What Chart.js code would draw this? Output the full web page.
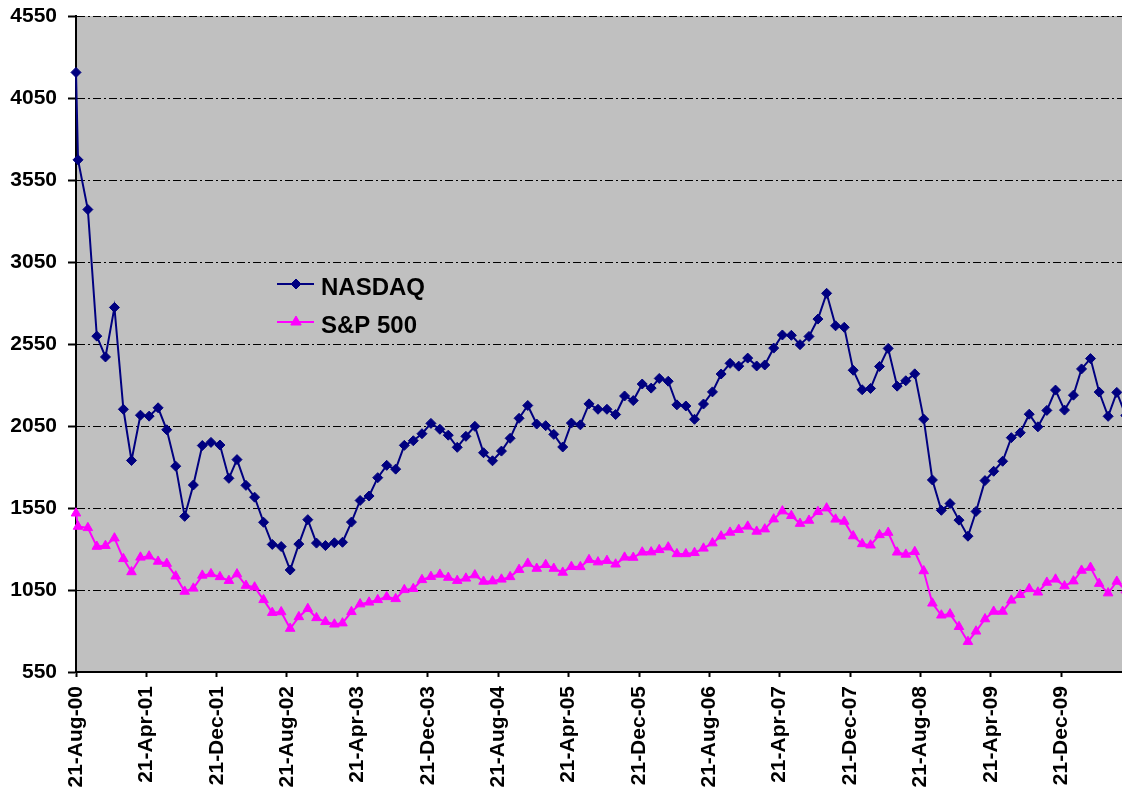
<!DOCTYPE html>
<html>
<head>
<meta charset="utf-8">
<title>NASDAQ and S&amp;P 500</title>
<script src="https://cdn.jsdelivr.net/npm/chart.js@4.4.1/dist/chart.umd.min.js"></script>
<style>
    html, body { margin: 0; padding: 0; background: #fff; }
    #wrap { width: 1122px; height: 792px; }
</style>
</head>
<body>
<div id="wrap"><canvas id="chart" width="1122" height="792"></canvas></div>
<script>
// Monthly closes, Aug-00 .. Aug-10
const nasdaq = [
    4206, 3673, 3370, 2598, 2471,
    2773, 2152, 1840, 2116, 2110, 2161, 2027, 1805, 1499, 1690, 1931, 1950,
    1934, 1731, 1845, 1688, 1616, 1463, 1328, 1315, 1172, 1330, 1479, 1336,
    1321, 1338, 1341, 1464, 1596, 1623, 1735, 1810, 1787, 1932, 1960, 2003,
    2066, 2030, 1994, 1920, 1987, 2048, 1887, 1838, 1897, 1975, 2097, 2175,
    2062, 2052, 1999, 1922, 2068, 2057, 2185, 2152, 2152, 2120, 2233, 2205,
    2306, 2281, 2340, 2323, 2179, 2172, 2091, 2184, 2258, 2367, 2432, 2415,
    2464, 2416, 2422, 2525, 2605, 2603, 2546, 2596, 2702, 2859, 2661, 2652,
    2390, 2271, 2279, 2413, 2523, 2293, 2326, 2368, 2092, 1721, 1536, 1577,
    1476, 1378, 1529, 1717, 1774, 1835, 1979, 2009, 2122, 2045, 2145, 2269,
    2147, 2238, 2398, 2461, 2257, 2109, 2255, 2114
];
const sp500 = [
    1518, 1437, 1429, 1315, 1320,
    1366, 1240, 1160, 1249, 1256, 1224, 1211, 1134, 1041, 1060, 1139, 1148,
    1130, 1107, 1147, 1077, 1067, 990, 912, 916, 815, 886, 936, 880,
    856, 841, 848, 917, 964, 975, 990, 1008, 996, 1051, 1058, 1112,
    1131, 1145, 1126, 1107, 1121, 1141, 1102, 1104, 1115, 1130, 1174, 1212,
    1181, 1204, 1181, 1157, 1192, 1191, 1234, 1220, 1229, 1207, 1249, 1248,
    1280, 1281, 1295, 1311, 1270, 1270, 1277, 1304, 1336, 1378, 1401, 1418,
    1438, 1407, 1421, 1482, 1531, 1503, 1455, 1474, 1527, 1549, 1481, 1468,
    1379, 1331, 1323, 1386, 1400, 1280, 1267, 1283, 1166, 969, 896, 903,
    826, 735, 798, 873, 919, 919, 987, 1021, 1057, 1036, 1096, 1115,
    1074, 1104, 1169, 1187, 1089, 1031, 1102, 1049
];
const seriesNames = ['NASDAQ', 'S&P 500'];
const firstDates = ['2000-08-21', '2000-08-28'];
const tickLabels = [
    '21-Aug-00', '21-Apr-01', '21-Dec-01', '21-Aug-02', '21-Apr-03',
    '21-Dec-03', '21-Aug-04', '21-Apr-05', '21-Dec-05', '21-Aug-06',
    '21-Apr-07', '21-Dec-07', '21-Aug-08', '21-Apr-09', '21-Dec-09'
];

const monthIdx = {Jan: 0, Feb: 1, Mar: 2, Apr: 3, May: 4, Jun: 5, Jul: 6, Aug: 7, Sep: 8, Oct: 9, Nov: 10, Dec: 11};
const DAY = 86400000;
const start = Date.UTC(2000, 7, 21);
const dayOf = (y, m, d) => (Date.UTC(y, m, d) - start) / DAY;

// point dates: two in Aug-00, then the 1st of every month from Oct-00
const dates = firstDates.map(s => {
    const p = s.split('-');
    return dayOf(+p[0], p[1] - 1, +p[2]);
});
for (let i = 0; dates.length < nasdaq.length; i++) dates.push(dayOf(2000, 9 + i, 1));

const tickDays = tickLabels.map(l => {
    const p = l.split('-');
    return dayOf(2000 + +p[2], monthIdx[p[1]], +p[0]);
});

const FONT = 'Arial, "Liberation Sans", sans-serif';
Chart.defaults.font.family = FONT;

// grey plot area
const plotBg = {
    id: 'plotBg',
    beforeDraw(chart) {
        const a = chart.chartArea;
        chart.ctx.save();
        chart.ctx.fillStyle = '#C0C0C0';
        chart.ctx.fillRect(a.left, a.top, a.right - a.left, a.bottom - a.top);
        chart.ctx.restore();
    }
};

// legend sitting inside the plot
const legendBox = {
    id: 'legendBox',
    afterDatasetsDraw(chart) {
        const ctx = chart.ctx;
        chart.data.datasets.forEach((ds, i) => {
            const y = 284 + i * 38;
            const cx = 296;
            ctx.save();
            ctx.strokeStyle = ds.borderColor;
            ctx.fillStyle = ds.borderColor;
            ctx.lineWidth = 2;
            ctx.beginPath();
            ctx.moveTo(277, y);
            ctx.lineTo(314, y);
            ctx.stroke();
            ctx.lineWidth = 1;
            ctx.beginPath();
            if (ds.pointStyle === 'rectRot') {
                const r = ds.pointRadius;
                ctx.moveTo(cx, y - r);
                ctx.lineTo(cx + r, y);
                ctx.lineTo(cx, y + r);
                ctx.lineTo(cx - r, y);
            } else {
                const r = ds.pointRadius + 0.5;
                ctx.moveTo(cx, y - r);
                ctx.lineTo(cx + r * 0.866, y + r / 2);
                ctx.lineTo(cx - r * 0.866, y + r / 2);
            }
            ctx.closePath();
            ctx.fill();
            ctx.stroke();
            ctx.fillStyle = '#000';
            ctx.font = 'bold 24px ' + FONT;
            ctx.textBaseline = 'alphabetic';
            ctx.fillText(ds.label, 321, y + 11);
            ctx.restore();
        });
    }
};

const toPoints = vals => vals.map((v, i) => ({x: dates[i], y: v}));
const clipBox = {left: 10, top: 10, right: 0, bottom: 10};

// keep the plot box fixed: 76px of y labels, 120px of x labels
const noPad = (s) => {
    s.paddingTop = 0;
    s.paddingBottom = 0;
    s.paddingLeft = 0;
    s.paddingRight = 0;
};

new Chart(document.getElementById('chart'), {
    type: 'line',
    data: {
        datasets: [{
            label: seriesNames[0],
            data: toPoints(nasdaq),
            borderColor: '#000080',
            backgroundColor: '#000080',
            pointBackgroundColor: '#000080',
            pointBorderColor: '#000080',
            borderWidth: 2,
            pointStyle: 'rectRot',
            pointRadius: 5,
            pointBorderWidth: 1,
            tension: 0,
            clip: clipBox
        }, {
            label: seriesNames[1],
            data: toPoints(sp500),
            borderColor: '#FF00FF',
            backgroundColor: '#FF00FF',
            pointBackgroundColor: '#FF00FF',
            pointBorderColor: '#FF00FF',
            borderWidth: 2,
            pointStyle: 'triangle',
            pointRadius: 5.5,
            pointBorderWidth: 1,
            tension: 0,
            clip: clipBox
        }]
    },
    options: {
        responsive: false,
        animation: false,
        devicePixelRatio: 1,
        layout: { autoPadding: false, padding: { top: 16, left: 0, right: 0, bottom: 0 } },
        plugins: {
            legend: { display: false },
            tooltip: { enabled: false }
        },
        scales: {
            x: {
                type: 'linear',
                min: 0,
                max: 3619,
                afterBuildTicks: (s) => { s.ticks = tickDays.map(v => ({value: v})) },
                afterFit: (s) => { s.height = 120; noPad(s) },
                ticks: {
                    autoSkip: false,
                    minRotation: 90,
                    maxRotation: 90,
                    padding: 9,
                    color: '#000',
                    font: { size: 21, weight: 'bold' },
                    callback: (v, i) => tickLabels[i]
                },
                grid: { drawOnChartArea: false, tickLength: 5, tickWidth: 2, tickColor: '#000' },
                border: { color: '#000', width: 2 }
            },
            y: {
                min: 550,
                max: 4550,
                afterFit: (s) => { s.width = 76; noPad(s) },
                ticks: {
                    stepSize: 500,
                    padding: 11,
                    color: '#000',
                    font: { size: 21, weight: 'bold' },
                    callback: (v) => String(v)
                },
                grid: { color: '#000', lineWidth: 1, tickLength: 8, tickWidth: 2, tickColor: '#000' },
                border: { color: '#000', width: 2, dash: [8, 3, 2, 3] }
            }
        }
    },
    plugins: [plotBg, legendBox]
});
</script>
</body>
</html>
